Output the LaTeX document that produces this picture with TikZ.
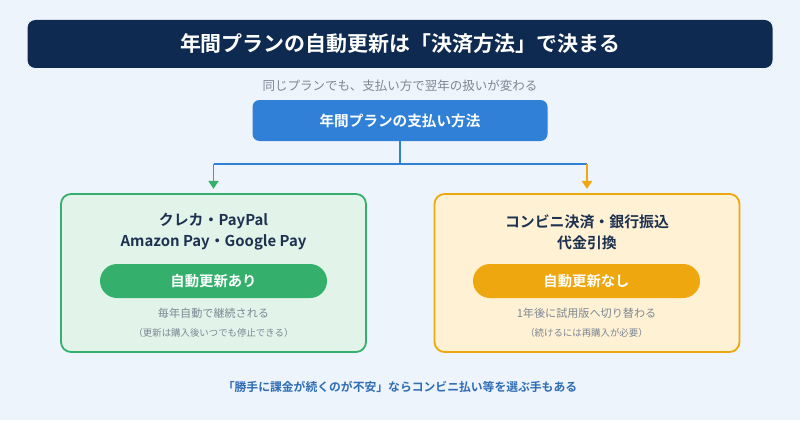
\documentclass[tikz,border=0pt]{standalone}
\usepackage{fontspec}
\setmainfont{Noto Sans CJK JP}[BoldFont={Noto Sans CJK JP Bold}]
\usetikzlibrary{arrows.meta,positioning}
\definecolor{bg}{HTML}{EEF4FB}
\definecolor{navy}{HTML}{0E2A50}
\definecolor{payblue}{HTML}{2F80D6}
\definecolor{okgreen}{HTML}{34B06C}
\definecolor{okbg}{HTML}{E2F4EA}
\definecolor{ngorange}{HTML}{EEA70E}
\definecolor{ngbg}{HTML}{FFF1D4}
\definecolor{inktext}{HTML}{1E3250}
\definecolor{greytext}{HTML}{7D8794}
\definecolor{noteblue}{HTML}{2F6DB5}
\newcommand{\px}{0.025cm}
\newcommand{\fsz}[2]{\fontsize{#1}{#2}\selectfont}

\begin{document}
\begin{tikzpicture}[x=\px,y=-\px,
	every node/.style={inner sep=0pt},
	titlebar/.style={fill=navy,text=white,font=\fsz{14.9}{18}\bfseries,minimum width={745*\px},minimum height={48*\px},rounded corners={8*\px}},
	subtxt/.style={text=greytext,font=\fsz{8.9}{11}},
	paybox/.style={fill=payblue,text=white,font=\fsz{10.4}{13}\bfseries,minimum width={295*\px},minimum height={41*\px},rounded corners={7*\px}},
	card/.style={draw=#1,line width=1.3pt,minimum width={305*\px},minimum height={158*\px},rounded corners={10*\px}},
	cardtitle/.style={text=inktext,align=center,font=\fsz{10.6}{14.9}\bfseries},
	pill/.style={fill=#1,text=white,font=\fsz{10.2}{13}\bfseries,minimum width={227*\px},minimum height={34*\px},rounded corners={17*\px}},
	greyline/.style={text=greytext,font=\fsz{7.9}{10}},
	smallline/.style={text=greytext,font=\fsz{6.7}{9}},
	conn/.style={draw=payblue,line width=1.4pt},
	branch/.style={draw=#1,line width=1.4pt,-{Triangle[length=5.6pt,width=7pt]},shorten >=3pt}]
	%\draw[help lines] (0,0) grid[step=50] (800,420);
	%BACKGROUND
	\fill[bg] (0,0) rectangle (800,420);
	\useasboundingbox (0,0) rectangle (800,420);
	%HEADER
	\node[titlebar] (title) at (400,44) {年間プランの自動更新は「決済方法」で決まる};
	\node[subtxt] (sub) at (400,86) {同じプランでも、支払い方で翌年の扱いが変わる};
	\node[paybox] (pay) at (400,120.5) {年間プランの支払い方法};
	%CARDS
	\node[card=okgreen,fill=okbg] (ok) at (213.5,273) {};
	\node[card=ngorange,fill=ngbg] (ng) at (587,273) {};
	\node[cardtitle] (okname) at (213.5,232) {クレカ・PayPal\\Amazon Pay・Google Pay};
	\node[cardtitle] (ngname) at (587,232) {コンビニ決済・銀行振込\\代金引換};
	\node[pill=okgreen] (okpill) at (213.5,281) {自動更新あり};
	\node[pill=ngorange] (ngpill) at (586.5,281) {自動更新なし};
	\node[greyline] (okres) at (213.5,313) {毎年自動で継続される};
	\node[greyline] (ngres) at (586.5,313) {1年後に試用版へ切り替わる};
	\node[smallline] (oknote) at (213.5,333) {（更新は購入後いつでも停止できる）};
	\node[smallline] (ngnote) at (586.5,333) {（続けるには再購入が必要）};
	%CONNECTORS
	\coordinate (okfork) at (213.5,164);
	\coordinate (ngfork) at (587,164);
	\draw[conn] (pay.south) |- (okfork);
	\draw[conn] (pay.south) |- (ngfork);
	\draw[branch=okgreen] (okfork) -- (ok.north);
	\draw[branch=ngorange] (ngfork) -- (ng.north);
	%NOTE
	\node[text=noteblue,font=\fsz{8.4}{11}\bfseries] (tip) at (400,387) {「勝手に課金が続くのが不安」ならコンビニ払い等を選ぶ手もある};
\end{tikzpicture}
\end{document}
